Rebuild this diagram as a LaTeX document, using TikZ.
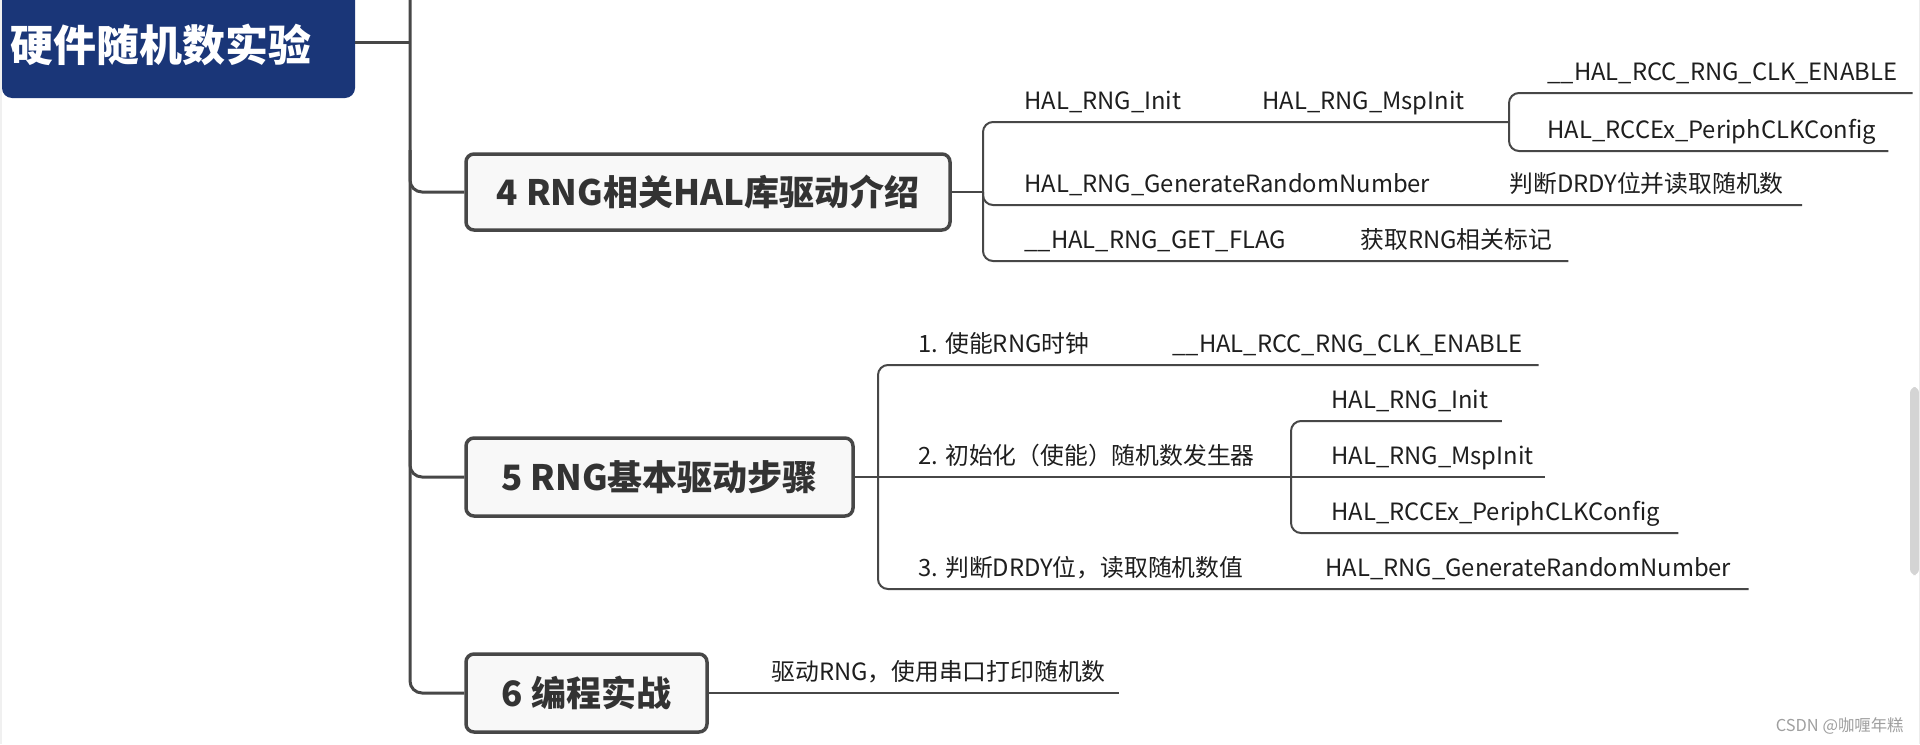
\documentclass[tikz,border=0pt]{standalone}
\usepackage{fontspec}
\setmainfont{Noto Sans CJK SC}
\usetikzlibrary{calc}
\definecolor{titleblue}{HTML}{1A3678}
\definecolor{linegray}{HTML}{474747}
\definecolor{boxfill}{HTML}{F8F8F8}
\definecolor{txt}{HTML}{1E1E1E}
\definecolor{boxtxt}{HTML}{333333}
\definecolor{scrollgray}{HTML}{D4D4D4}
\tikzset{
  lbl/.style={anchor=base west, inner sep=0pt, font=\fontsize{11.9}{13}\selectfont, text=txt},
  topicbox/.style={draw=linegray, line width=1.75pt, fill=boxfill, rounded corners=4pt,
    font=\fontsize{17.5}{20}\selectfont\bfseries, text=boxtxt, inner sep=0pt},
  trunkline/.style={draw=linegray, line width=1.5pt, rounded corners=6pt},
  subline/.style={draw=linegray, line width=1pt, rounded corners=5pt},
}
\begin{document}
\begin{tikzpicture}[x=0.5pt, y=-0.5pt]
\useasboundingbox (0,0) rectangle (1920,744);
\fill[white] (0,0) rectangle (1920,744);
\fill[gray!12] (0,0) rectangle (2,744);
% title
\begin{scope}
\clip (0,0) rectangle (1920,744);
\node[fill=titleblue, rounded corners=5pt, minimum width=176.5pt, minimum height=56pt, inner sep=0pt] (title) at (178.5,42) {};
\end{scope}
\node[anchor=west, inner sep=0pt, text=white, font=\fontsize{21.5}{24}\selectfont\bfseries] (titletext) at (10,45) {硬件随机数实验};
% topic boxes
\node[topicbox, minimum width=242pt, minimum height=38pt] (b4) at (708,192) {4 RNG相关HAL库驱动介绍};
\node[topicbox, minimum width=193.5pt, minimum height=39pt] (b5) at (659.5,477) {5 RNG基本驱动步骤};
\node[topicbox, minimum width=120.5pt, minimum height=39pt] (b6) at (586.5,693) {6 编程实战};
% trunk
\coordinate (trunktop) at (410,-5);
\draw[trunkline] (title.east) -- (410,42);
\draw[trunkline] (trunktop) |- (b6.west);
\draw[trunkline] (410,150) |- (b4.west);
\draw[trunkline] (410,430) |- (b5.west);
% ---- branch 4
\coordinate (k4) at (983,192);
\coordinate (k4b) at (1509,122);
\draw[subline] (b4.east) -- (k4);
\node[lbl] (a1) at (1024,109) {HAL\_RNG\_Init};
\node[lbl] (a2) at (1262,109) {HAL\_RNG\_MspInit};
\draw[subline] (k4) |- (k4b);
\node[lbl] (a3) at (1547,80) {\_\_HAL\_RCC\_RNG\_CLK\_ENABLE};
\node[lbl] (a4) at (1547,138) {HAL\_RCCEx\_PeriphCLKConfig};
\coordinate (ya3) at (0,93);
\coordinate (ya4) at (0,151);
\draw[subline] (k4b) |- ($(a3.east |- ya3)+(15,0)$);
\draw[subline] (k4b) |- ($(a4.east |- ya4)+(12,0)$);
\node[lbl] (bb1) at (1024,192) {HAL\_RNG\_GenerateRandomNumber};
\node[lbl] (bb2) at (1509,192) {判断DRDY位并读取随机数};
\coordinate (yb) at (0,205);
\draw[subline] (k4) |- ($(bb2.east |- yb)+(18,0)$);
\node[lbl] (c1) at (1024,248) {\_\_HAL\_RNG\_GET\_FLAG};
\node[lbl] (c2) at (1360,248) {获取RNG相关标记};
\coordinate (yc) at (0,261);
\draw[subline] (k4) |- ($(c2.east |- yc)+(16,0)$);
% ---- branch 5
\coordinate (k5) at (878,477);
\coordinate (k5b) at (1291,477);
\draw[subline] (b5.east) -- (k5) -- (k5b);
\node[lbl] (d1) at (918,352) {1. 使能RNG时钟};
\node[lbl] (d2) at (1172,352) {\_\_HAL\_RCC\_RNG\_CLK\_ENABLE};
\coordinate (yd1) at (0,365);
\draw[subline] (k5) |- ($(d2.east |- yd1)+(16,0)$);
\node[lbl] (d3) at (918,464) {2. 初始化（使能）随机数发生器};
\node[lbl] (e1) at (1331,408) {HAL\_RNG\_Init};
\node[lbl] (e2) at (1331,464) {HAL\_RNG\_MspInit};
\node[lbl] (e3) at (1331,520) {HAL\_RCCEx\_PeriphCLKConfig};
\coordinate (ye1) at (0,421);
\coordinate (ye2) at (0,477);
\coordinate (ye3) at (0,533);
\draw[subline] (k5b) |- ($(e1.east |- ye1)+(13,0)$);
\draw[subline] (k5b) -- ($(e2.east |- ye2)+(11,0)$);
\draw[subline] (k5b) |- ($(e3.east |- ye3)+(18,0)$);
\node[lbl] (d4) at (918,576) {3. 判断DRDY位，读取随机数值};
\node[lbl] (d5) at (1325,576) {HAL\_RNG\_GenerateRandomNumber};
\coordinate (yd4) at (0,589);
\draw[subline] (k5) |- ($(d5.east |- yd4)+(17,0)$);
% ---- branch 6
\node[lbl] (f1) at (771,680) {驱动RNG，使用串口打印随机数};
\draw[subline] (b6.east) -- ($(f1.east |- b6.east)+(13,0)$);
% watermark and scrollbar
\node[anchor=east, inner sep=0pt, text=gray!75, font=\fontsize{8.2}{9}\selectfont] (wm) at (1904,726) {CSDN @咖喱年糕};
\fill[scrollgray, rounded corners=3pt] (1910,387) rectangle (1919,575);
\draw[gray!15, line width=0.5pt] (1919.5,0) -- (1919.5,744);
\end{tikzpicture}
\end{document}
